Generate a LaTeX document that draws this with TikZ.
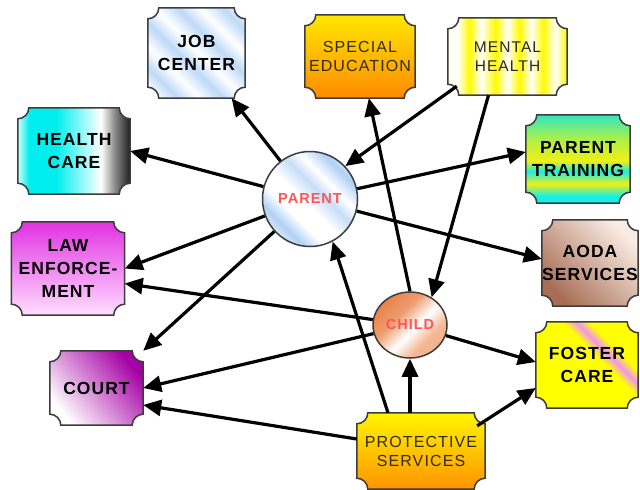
\documentclass[tikz,border=0pt]{standalone}
\usepackage{fontspec}
\setmainfont{Liberation Sans}
\newfontfamily\bfam[LetterSpace=6]{Liberation Sans}
\newfontfamily\rfam[LetterSpace=7]{Liberation Sans}
\usetikzlibrary{arrows.meta,calc,backgrounds,shapes.geometric}

\definecolor{jbl}{RGB}{190,218,248}
\definecolor{pbl}{RGB}{175,208,246}
\definecolor{hcl}{RGB}{200,255,255}
\definecolor{hcy}{RGB}{0,238,238}
\definecolor{hgr}{RGB}{140,140,140}
\definecolor{hbk}{RGB}{30,30,30}
\definecolor{myl}{RGB}{255,250,0}
\definecolor{mwh}{RGB}{255,255,235}
\definecolor{ptc}{RGB}{20,240,230}
\definecolor{pty}{RGB}{240,240,20}
\definecolor{ptg}{RGB}{175,240,70}
\definecolor{ptt}{RGB}{50,230,190}
\definecolor{aodl}{RGB}{250,236,228}
\definecolor{aodd}{RGB}{168,110,85}
\definecolor{lawt}{RGB}{225,50,225}
\definecolor{lawb}{RGB}{255,222,255}
\definecolor{crtp}{RGB}{165,0,165}
\definecolor{fyl}{RGB}{255,255,0}
\definecolor{fpk}{RGB}{240,150,240}
\definecolor{prt}{RGB}{255,245,0}
\definecolor{prb}{RGB}{255,148,0}
\definecolor{spt}{RGB}{255,232,0}
\definecolor{spb}{RGB}{255,138,0}
\definecolor{cor}{RGB}{232,125,65}
\definecolor{cpe}{RGB}{245,185,150}
\definecolor{tred}{RGB}{255,85,85}
\definecolor{bord}{RGB}{60,60,60}
\definecolor{olive}{RGB}{50,45,0}

\pgfdeclarehorizontalshading{jobsh}{100bp}{color(0bp)=(white); color(18bp)=(white); color(26bp)=(jbl); color(34bp)=(white); color(43bp)=(jbl); color(51bp)=(white); color(60bp)=(jbl); color(68bp)=(white); color(77bp)=(jbl); color(85bp)=(white); color(100bp)=(white)}
\pgfdeclarehorizontalshading{parsh}{100bp}{color(0bp)=(white); color(20bp)=(white); color(30bp)=(pbl); color(38bp)=(white); color(47bp)=(white); color(56bp)=(pbl!70); color(63bp)=(white); color(72bp)=(pbl); color(82bp)=(white); color(100bp)=(white)}
\pgfdeclarehorizontalshading{healthsh}{100bp}{color(0bp)=(hcl); color(25bp)=(hcl); color(30bp)=(hcy); color(42bp)=(hcy); color(62bp)=(white); color(68bp)=(hgr); color(75bp)=(hbk); color(100bp)=(hbk)}
\pgfdeclarehorizontalshading{mentsh}{100bp}{color(0bp)=(myl); color(25bp)=(mwh); color(29bp)=(white); color(34bp)=(myl); color(39bp)=(white); color(45bp)=(myl); color(50bp)=(white); color(55bp)=(myl); color(60bp)=(white); color(65bp)=(myl); color(70bp)=(white); color(75bp)=(myl); color(100bp)=(myl)}
\pgfdeclareverticalshading{ptrsh}{100bp}{color(0bp)=(ptc); color(25bp)=(ptc); color(29bp)=(ptc); color(36bp)=(pty); color(43bp)=(ptc); color(49bp)=(pty); color(61bp)=(ptg); color(75bp)=(ptt); color(100bp)=(ptt)}
\pgfdeclarehorizontalshading{fossh}{100bp}{color(0bp)=(fyl); color(57bp)=(fyl); color(62bp)=(fpk); color(67bp)=(fyl); color(100bp)=(fyl)}
\pgfdeclarehorizontalshading{chish}{100bp}{color(0bp)=(cor); color(22bp)=(cor); color(40bp)=(cor!75); color(54bp)=(white); color(66bp)=(cpe); color(100bp)=(cor!80)}

\tikzset{
  lblb/.style={rectangle, inner sep=0pt, align=center, text=black,
    font=\bfam\bfseries\fontsize{17.5}{23}\selectfont},
  lblt/.style={rectangle, inner sep=0pt, align=center, text=olive,
    font=\rfam\fontsize{16}{19}\selectfont},
  ctext/.style={inner sep=0pt, draw=bord, line width=1.5pt, text=tred,
    font=\rfam\bfseries\fontsize{14.5}{18}\selectfont},
  cframe/.style={draw=bord, line width=1.5pt},
  arr/.style={line width=3.2pt, -{Triangle[length=18pt,width=16pt]}}
}
\newcommand\cbox[2]{\path[cframe,#2]
  ($(#1.north west)+(11pt,0pt)$) -- ($(#1.north east)+(-11pt,0pt)$)
  arc[start angle=180,end angle=270,radius=11pt]
  -- ($(#1.south east)+(0pt,11pt)$)
  arc[start angle=90,end angle=180,radius=11pt]
  -- ($(#1.south west)+(11pt,0pt)$)
  arc[start angle=0,end angle=90,radius=11pt]
  -- ($(#1.north west)+(0pt,-11pt)$)
  arc[start angle=270,end angle=360,radius=11pt] -- cycle;}

\begin{document}
\begin{tikzpicture}[x=1pt,y=-1pt]
\useasboundingbox (0,0) rectangle (640,490);

\node[lblb, minimum width=97pt, minimum height=90pt] (job) at (196.5,53) {JOB\\CENTER};
\node[lblb, minimum width=112pt, minimum height=86pt] (health) at (74,151) {HEALTH\\CARE};
\node[lblt, minimum width=110pt, minimum height=83pt] (sped) at (360,56.5) {SPECIAL\\EDUCATION};
\node[lblt, minimum width=119pt, minimum height=77pt, text=black!85, font=\rfam\fontsize{15.5}{19}\selectfont] (mental) at (507.5,56.5) {MENTAL\\HEALTH};
\node[lblb, minimum width=104pt, minimum height=88pt] (ptrain) at (578,159) {PARENT\\TRAINING};
\node[lblb, minimum width=96pt, minimum height=86pt] (aoda) at (590,263) {AODA\\SERVICES};
\node[lblb, minimum width=113pt, minimum height=93pt] (law) at (68,268.5) {LAW\\ENFORCE-\\MENT};
\node[lblb, minimum width=93pt, minimum height=74pt] (court) at (96.5,388) {COURT};
\node[lblb, minimum width=102pt, minimum height=86pt] (foster) at (587,365) {FOSTER\\CARE};
\node[lblt, minimum width=128pt, minimum height=76pt] (prot) at (421,451) {PROTECTIVE\\SERVICES};

\node[ctext, circle, minimum size=95pt, shading=parsh, shading angle=45] (parent) at (310,199) {PARENT};
\node[ctext, ellipse, minimum width=74pt, minimum height=66pt, shading=chish, shading angle=-45] (child) at (410,325) {CHILD};

\begin{scope}[on background layer]
\cbox{job}{shading=jobsh, shading angle=45}
\cbox{health}{shading=healthsh}
\cbox{sped}{top color=spt, bottom color=spb}
\cbox{mental}{shading=mentsh}
\cbox{ptrain}{shading=ptrsh}
\cbox{aoda}{top color=aodl, bottom color=aodd, shading angle=-45}
\cbox{law}{top color=lawt, bottom color=lawb}
\cbox{court}{top color=crtp, bottom color=white, shading angle=-50}
\cbox{foster}{shading=fossh, shading angle=45}
\cbox{prot}{top color=prt, bottom color=prb}
\end{scope}

\draw[arr] (parent) -- (job);
\draw[arr] (parent) -- (health.east);
\draw[arr] (parent) -- (law.east);
\draw[arr] (parent) -- (court.north east);
\draw[arr] (parent) -- ($(ptrain.west)+(0pt,7pt)$);
\draw[arr] (parent) -- ($(aoda.west)+(0pt,4pt)$);
\draw[arr] ($(mental.south west)+(9pt,9pt)$) -- (parent.43);
\draw[arr] ($(mental.south)+(-19pt,0pt)$) -- (child.52);
\draw[arr] (child.north) -- (sped);
\draw[arr] (child) -- ($(law.east)+(0pt,-15pt)$);
\draw[arr] (child) -- (court.east);
\draw[arr] (child) -- ($(foster.west)+(0pt,3pt)$);
\draw[arr] (child.south |- prot.north) -- (child.south);
\draw[arr] ($(prot.north)+(-33pt,0pt)$) -- (parent.-62);
\draw[arr] ($(prot.west)+(0pt,12pt)$) -- ($(court.east)+(0pt,-17pt)$);
\draw[arr] ($(prot.north east)+(-8pt,-13pt)$) -- ($(foster.west)+(0pt,-23pt)$);
\end{tikzpicture}
\end{document}
